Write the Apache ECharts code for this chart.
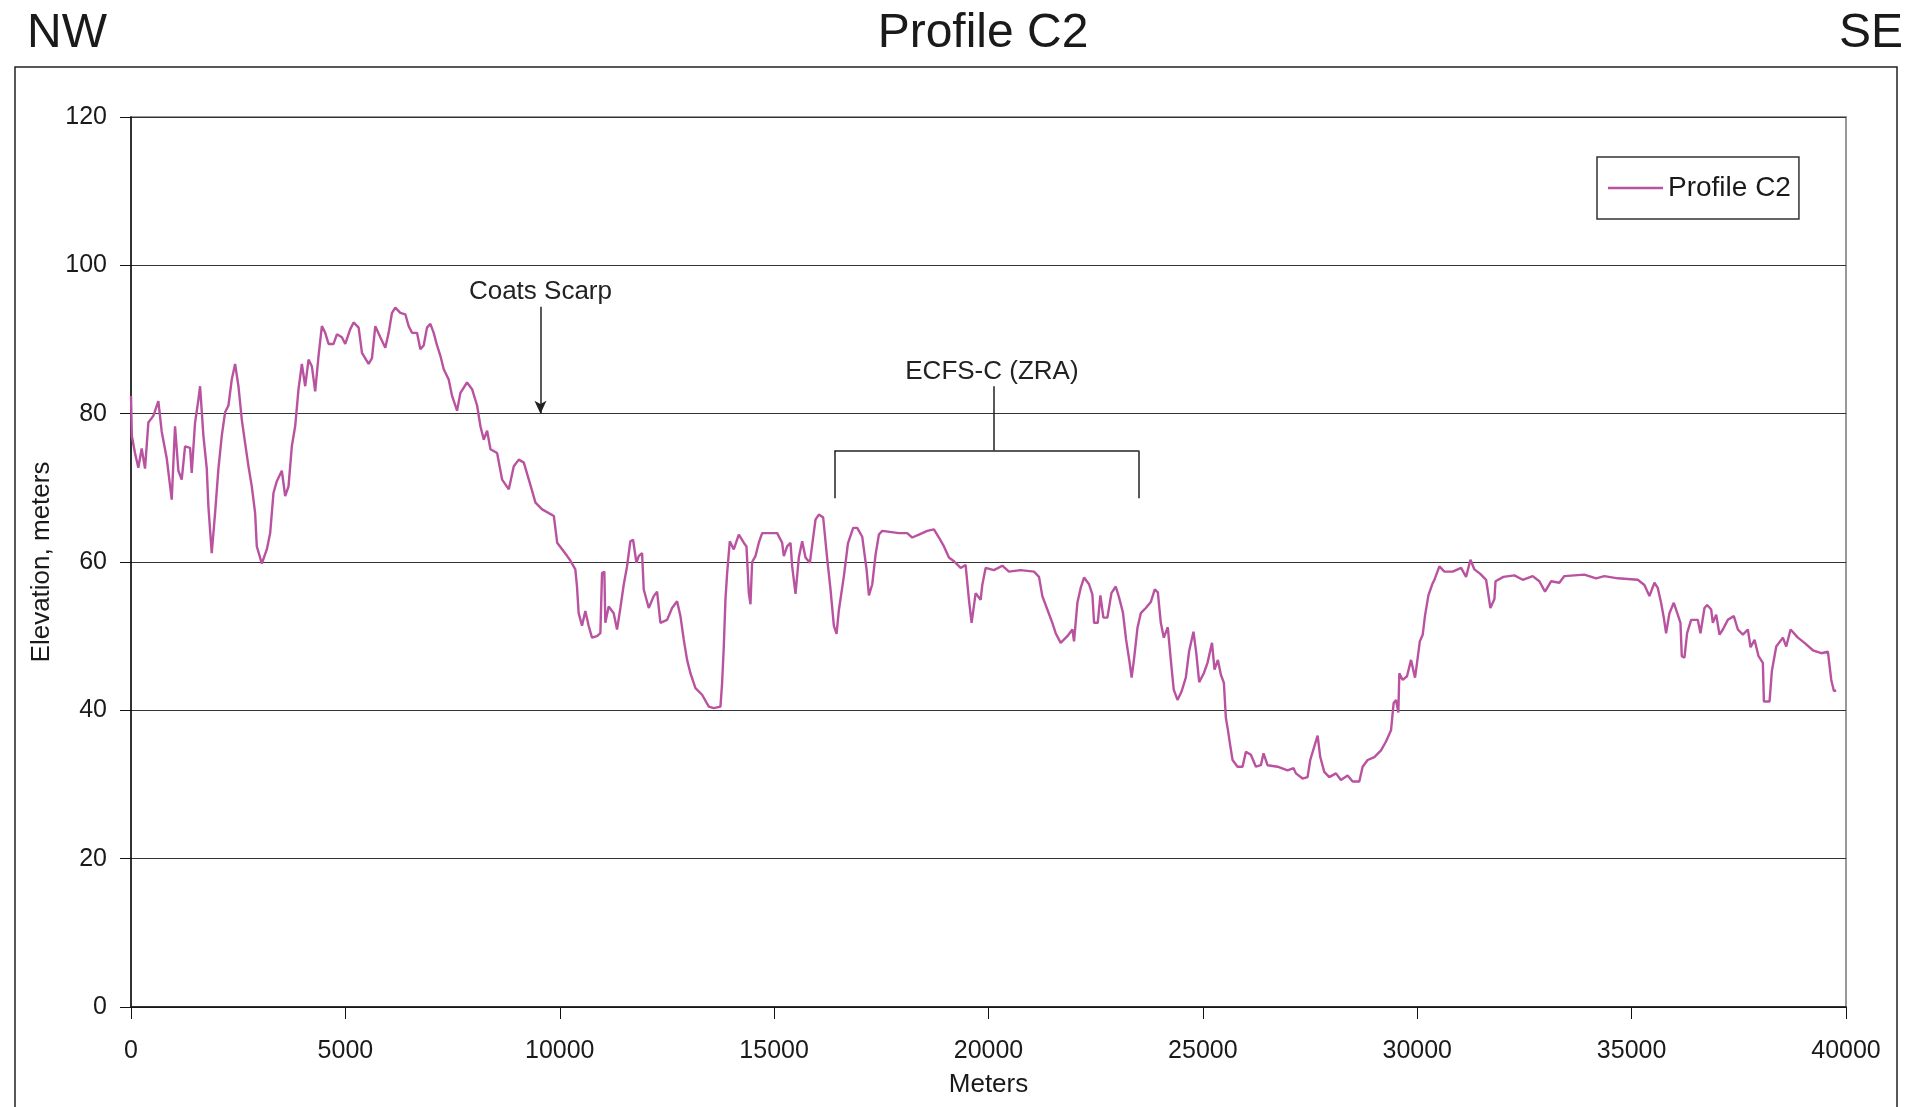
<!DOCTYPE html>
<html>
<head>
<meta charset="utf-8">
<title>Profile C2</title>
<script src="https://cdn.jsdelivr.net/npm/echarts@6/dist/echarts.min.js"></script>
<style>
  html, body { margin: 0; padding: 0; background: #fff; }
  #chart { width: 1907px; height: 1107px; }
</style>
</head>
<body>
<div id="chart"></div>
<script>
// distance along profile (m) and elevation (m)
const distM = [
  0, 20, 93, 171, 249, 327, 405, 521, 638, 716, 833, 950, 1027, 1105, 1183, 1261, 1378, 1416, 1494, 1572,
  1611, 1689, 1767, 1805, 1883, 1961, 2039, 2117, 2195, 2273, 2350, 2428, 2506, 2584, 2662, 2740, 2817, 2895, 2934, 3051,
  3168, 3246, 3323, 3401, 3518, 3596, 3674, 3751, 3829, 3907, 3985, 4063, 4141, 4218, 4296, 4374, 4452, 4530, 4608, 4724,
  4802, 4919, 4997, 5114, 5192, 5309, 5387, 5542, 5620, 5698, 5815, 5931, 6009, 6087, 6165, 6282, 6398, 6476, 6554, 6671,
  6749, 6826, 6904, 6982, 7060, 7138, 7216, 7294, 7410, 7488, 7605, 7683, 7838, 7955, 8072, 8150, 8228, 8306, 8384, 8539,
  8656, 8812, 8928, 9045, 9162, 9279, 9434, 9590, 9862, 9940, 10174, 10246, 10363, 10402, 10441, 10519, 10597, 10674, 10752, 10869,
  10947, 10986, 11040, 11063, 11141, 11258, 11336, 11414, 11491, 11569, 11647, 11710, 11788, 11842, 11920, 11959, 12076, 12192, 12270, 12348,
  12504, 12620, 12737, 12815, 12893, 12970, 13048, 13165, 13320, 13476, 13593, 13748, 13787, 13826, 13865, 13904, 13966, 14059, 14176, 14292,
  14355, 14410, 14448, 14487, 14565, 14643, 14721, 15071, 15187, 15226, 15304, 15382, 15421, 15499, 15576, 15654, 15732, 15833, 15888, 15965,
  16043, 16144, 16237, 16315, 16394, 16456, 16510, 16627, 16722, 16844, 16938, 17055, 17156, 17211, 17289, 17366, 17444, 17522, 17911, 18105,
  18221, 18377, 18572, 18727, 18844, 18961, 19077, 19194, 19350, 19466, 19544, 19606, 19700, 19816, 19855, 19933, 20127, 20322, 20477, 20750,
  21061, 21178, 21256, 21372, 21489, 21567, 21683, 21839, 21956, 21995, 22073, 22150, 22228, 22345, 22423, 22462, 22548, 22610, 22680, 22773,
  22867, 22968, 23046, 23135, 23210, 23290, 23338, 23396, 23474, 23552, 23669, 23785, 23878, 23950, 24019, 24089, 24182, 24252, 24320, 24408,
  24500, 24602, 24680, 24781, 24848, 24914, 25022, 25108, 25213, 25272, 25350, 25420, 25490, 25536, 25580, 25637, 25692, 25808, 25925, 26003,
  26120, 26236, 26353, 26415, 26508, 26742, 26975, 27115, 27170, 27325, 27442, 27504, 27598, 27676, 27738, 27831, 27948, 28104, 28220, 28376,
  28493, 28648, 28726, 28843, 29000, 29155, 29271, 29388, 29450, 29505, 29559, 29582, 29660, 29761, 29855, 29948, 29995, 30060, 30127, 30182,
  30260, 30350, 30400, 30516, 30633, 30827, 31022, 31139, 31240, 31333, 31470, 31606, 31706, 31800, 31826, 32010, 32266, 32460, 32692, 32848,
  32980, 33120, 33315, 33431, 33898, 34170, 34365, 34676, 35143, 35298, 35415, 35532, 35610, 35687, 35750, 35804, 35882, 35983, 36076, 36139,
  36170, 36232, 36294, 36388, 36543, 36606, 36699, 36761, 36855, 36894, 36972, 37050, 37128, 37244, 37384, 37478, 37595, 37711, 37774, 37867,
  37960, 38061, 38085, 38217, 38271, 38373, 38528, 38606, 38707, 38878, 39033, 39228, 39422, 39578, 39656, 39718, 39772
];
const elevM = [
  82.4, 77, 74.7, 72.7, 75.3, 72.6, 78.8, 79.7, 81.7, 77.6, 74.0, 68.4, 78.3, 72.3, 71.1, 75.6, 75.4, 72, 78.8, 81.9,
  83.7, 77, 72.6, 67.5, 61.2, 66.6, 72.6, 77, 80.2, 81.1, 84.6, 86.7, 83.7, 79.2, 76.0, 72.9, 70.2, 66.6, 62.1, 59.8,
  61.7, 63.9, 69.3, 70.9, 72.3, 68.9, 70.2, 75.6, 78.3, 83.3, 86.7, 83.7, 87.3, 86.4, 83, 87.8, 91.8, 90.9, 89.4, 89.4,
  90.7, 90.3, 89.4, 91.4, 92.3, 91.6, 88.2, 86.7, 87.5, 91.8, 90.3, 88.9, 90.9, 93.6, 94.3, 93.6, 93.4, 91.8, 90.9, 90.9,
  88.7, 89.2, 91.6, 92.1, 90.9, 89.2, 87.8, 86, 84.6, 82.4, 80.4, 82.8, 84.2, 83.3, 81.1, 78.3, 76.5, 77.7, 75.2, 74.7,
  71.1, 69.8, 72.9, 73.8, 73.4, 71.1, 68, 67.1, 66.2, 62.6, 60.8, 60.2, 59.0, 56.7, 53.1, 51.4, 53.4, 51.4, 49.8, 50.0,
  50.4, 58.5, 58.7, 51.8, 54.0, 53.1, 50.9, 53.8, 56.9, 59.4, 62.8, 63.0, 59.9, 60.8, 61.2, 56.3, 53.8, 55.4, 56.0, 51.8,
  52.2, 53.8, 54.7, 52.7, 49.5, 46.8, 45.0, 43.0, 42.1, 40.5, 40.3, 40.5, 43.7, 48.6, 55.0, 58.5, 62.8, 61.7, 63.7, 62.6,
  62.1, 55.8, 54.3, 60.0, 60.8, 62.6, 63.9, 63.9, 62.6, 60.8, 62.1, 62.6, 59.4, 55.7, 60.6, 62.8, 60.6, 59.9, 62.3, 65.7,
  66.4, 66.0, 60.5, 56.3, 51.4, 50.3, 53.5, 58.1, 62.5, 64.6, 64.6, 63.4, 59, 55.5, 57.0, 61.0, 63.7, 64.2, 63.9, 63.9,
  63.3, 63.7, 64.2, 64.4, 63.3, 62.1, 60.6, 60.1, 59.2, 59.6, 54.9, 51.8, 55.8, 54.9, 56.9, 59.2, 58.9, 59.5, 58.7, 58.9,
  58.7, 58.0, 55.4, 53.6, 51.8, 50.4, 49.1, 50.0, 50.9, 49.3, 54.5, 56.5, 57.9, 57.0, 55.6, 51.8, 51.8, 55.5, 52.5, 52.5,
  55.8, 56.7, 55.2, 53.2, 49.5, 46.5, 44.4, 47.0, 51.1, 53.1, 53.8, 54.6, 56.3, 55.9, 51.8, 49.8, 51.2, 46.8, 42.8, 41.4,
  42.5, 44.4, 48.0, 50.6, 47.6, 43.8, 45.0, 46.4, 49.1, 45.5, 46.8, 44.8, 43.7, 39.0, 37.5, 35.3, 33.3, 32.4, 32.4, 34.4,
  34.0, 32.4, 32.6, 34.2, 32.6, 32.4, 31.9, 32.2, 31.5, 30.8, 31.0, 33.3, 35.1, 36.6, 33.7, 31.7, 31.0, 31.5, 30.6, 31.2,
  30.4, 30.4, 32.4, 33.3, 33.7, 34.6, 35.8, 37.3, 41.0, 41.4, 39.7, 45.0, 44.1, 44.6, 46.8, 44.4, 46.4, 49.3, 50.2, 52.8,
  55.5, 57.0, 57.6, 59.4, 58.7, 58.7, 59.2, 58.0, 60.3, 59.0, 58.4, 57.6, 53.8, 55.0, 57.4, 58.0, 58.2, 57.6, 58.1, 57.4,
  56.0, 57.4, 57.2, 58.1, 58.3, 57.8, 58.1, 57.8, 57.6, 56.9, 55.4, 57.2, 56.5, 54.5, 52.5, 50.4, 53.1, 54.5, 52.9, 51.8,
  47.3, 47.1, 50.4, 52.2, 52.2, 50.4, 53.8, 54.2, 53.6, 51.8, 52.9, 50.2, 50.9, 52.2, 52.7, 50.9, 50.2, 50.9, 48.5, 49.5,
  47.3, 46.4, 41.2, 41.2, 45.3, 48.6, 49.8, 48.6, 50.9, 49.8, 49.1, 48.1, 47.7, 47.9, 44.1, 42.6, 42.7
];

const xTicks = [0, 40000, 5000];
const yTicks = [0, 120, 20];

// annotations (data coordinates)
const scarpX = 9550;
const scarpY = [94.4, 80];
const zoneX = [16410, 20120, 23500];
const zoneY = [83.7, 75.05, 68.6];

const FONT = "'Liberation Sans', Arial, sans-serif";
const profileColor = "#b9529f";
const ink = "#1a1a1a";

const chart = echarts.init(document.getElementById("chart"));

const option = {
  animation: false,
  textStyle: { fontFamily: FONT, color: ink },
  grid: {
    left: 131, right: 61, top: 117, bottom: 100,
    show: true, borderColor: "#999", borderWidth: 2
  },
  graphic: [
    { type: "rect", silent: true, shape: { x: 15, y: 67, width: 1882, height: 1060 },
      style: { fill: "none", stroke: "#222", lineWidth: 1.5 } },
    { type: "text", left: 27, top: 10, style: { text: "NW", font: "48px " + FONT, fill: ink } },
    { type: "text", right: 4, top: 10, style: { text: "SE", font: "48px " + FONT, fill: ink } },
    { type: "text", x: 983, y: 10, style: { text: "Profile C2", font: "48px " + FONT, fill: ink, align: "center" } }
  ],
  legend: {
    left: 1597, top: 157,
    padding: [17, 8, 17, 11],
    borderColor: "#333", borderWidth: 1.5,
    icon: "rect",
    itemWidth: 55, itemHeight: 2.4,
    textStyle: { fontSize: 28, color: ink, fontFamily: FONT },
    data: ["Profile C2"]
  },
  xAxis: {
    type: "value",
    min: xTicks[0], max: xTicks[1], interval: xTicks[2],
    name: "Meters", nameLocation: "middle", nameGap: 65,
    nameTextStyle: { fontSize: 26, color: ink },
    axisLine: { lineStyle: { color: "#111", width: 1.5 } },
    axisTick: { inside: false, length: 12, lineStyle: { color: "#111" } },
    axisLabel: { fontSize: 25, color: ink, margin: 32, formatter: (v) => String(v) },
    splitLine: { show: false }
  },
  yAxis: {
    type: "value",
    min: yTicks[0], max: yTicks[1], interval: yTicks[2],
    name: "Elevation, meters", nameLocation: "middle", nameGap: 71,
    nameTextStyle: { fontSize: 26, color: ink },
    axisLine: { show: true, lineStyle: { color: "#111", width: 1.5 } },
    axisTick: { show: true, inside: false, length: 11, lineStyle: { color: "#111" } },
    axisLabel: { fontSize: 25, color: ink, margin: 24 },
    splitLine: { lineStyle: { color: "#333", width: 1.2 } }
  },
  series: [
    {
      name: "Profile C2",
      type: "line",
      symbol: "none",
      data: distM.map((d, i) => [d, elevM[i]]),
      lineStyle: { color: profileColor, width: 2.4 },
      itemStyle: { color: profileColor },
      markLine: {
        silent: true,
        symbol: ["none", "none"],
        label: { show: false },
        lineStyle: { color: "#222", width: 1.5, type: "solid" },
        data: [
          [{ coord: [scarpX, scarpY[0]] }, { coord: [scarpX, scarpY[1]], symbol: "arrow", symbolSize: [9, 13] }],
          [{ coord: [zoneX[1], zoneY[0]] }, { coord: [zoneX[1], zoneY[1]] }],
          [{ coord: [zoneX[0], zoneY[1]] }, { coord: [zoneX[2], zoneY[1]] }],
          [{ coord: [zoneX[0], zoneY[1]] }, { coord: [zoneX[0], zoneY[2]] }],
          [{ coord: [zoneX[2], zoneY[1]] }, { coord: [zoneX[2], zoneY[2]] }]
        ]
      },
      markPoint: {
        silent: true,
        symbol: "rect",
        symbolSize: 0,
        label: { show: true, position: "inside", fontSize: 26, color: "#222", fontFamily: FONT },
        data: [
          { coord: [scarpX, 96.4], label: { formatter: "Coats Scarp" } },
          { coord: [zoneX[1] - 40, 85.6], label: { formatter: "ECFS-C (ZRA)" } }
        ]
      }
    }
  ]
};

chart.setOption(option);
</script>
</body>
</html>
